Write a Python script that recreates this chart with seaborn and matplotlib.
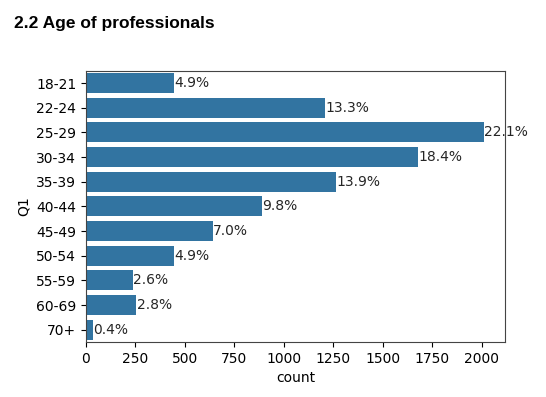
import pandas as pd
import matplotlib
matplotlib.use("Agg")
import matplotlib.pyplot as plt
import seaborn as sns

# age groups (Q1) and number of respondents
ages = ['18-21', '22-24', '25-29', '30-34', '35-39', '40-44',
        '45-49', '50-54', '55-59', '60-69', '70+']
counts = [445, 1209, 2013, 1679, 1266, 890, 640, 445, 236, 254, 36]

df = pd.DataFrame({'Q1': ages, 'count': counts})
total = df['count'].sum()

fig = plt.figure(figsize=(5.46, 3.97), dpi=100)
ax = fig.add_axes([0.1575, 0.1385, 0.767, 0.6835])

sns.barplot(data=df, x='count', y='Q1', color='#1f77b4', saturation=0.75, ax=ax)

# percentage labels at the end of each bar
for i, c in enumerate(df['count']):
    ax.text(c + 2, i, '{:.1f}%'.format(100 * c / total), va='center', ha='left',
            fontsize=10, color='#262626')

ax.set_xlim(0, max(counts) * 1.052)
ax.set_xlabel('count')
ax.set_ylabel('Q1')
for s in ax.spines.values():
    s.set_color('#444444')

fig.text(0.026, 0.93, '2.2 Age of professionals', fontsize=12.5, fontweight='bold',
         family='Liberation Sans', ha='left', va='baseline')

fig.savefig('out.png', dpi=100)
